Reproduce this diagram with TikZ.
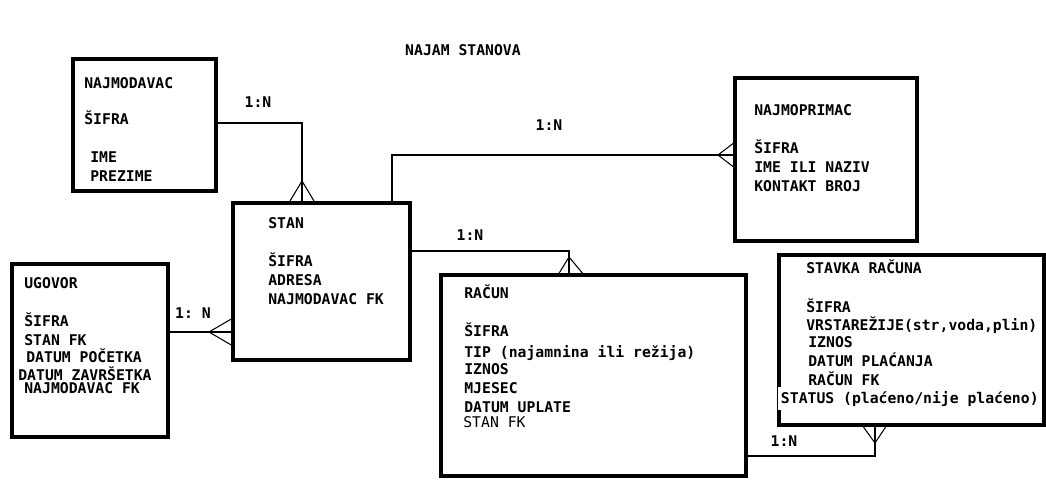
\documentclass[tikz,border=0pt]{standalone}
\usepackage{fontspec}
\setmonofont{DejaVu Sans Mono}
\usetikzlibrary{calc}

\begin{document}
\begin{tikzpicture}[x=0.02cm, y=-0.02cm,
  entity/.style={draw, line width=2.4pt, rectangle, outer sep=0pt, inner sep=0pt},
  attr/.style={anchor=base west, inner sep=0pt, font=\ttfamily\bfseries\fontsize{8.4}{10}\selectfont},
  card/.style={attr, anchor=center},
  rel/.style={line width=0.6pt}]
  \useasboundingbox (0,0) rectangle (1046,481);
  % naslov
  \node[card] (naslov) at (463,50) {NAJAM STANOVA};
  % entiteti
  \node[entity, minimum width=2.86cm, minimum height=2.64cm] (najmodavac) at (144.5,125) {};
  \node[entity, minimum width=3.54cm, minimum height=3.14cm] (stan) at (321.5,281.5) {};
  \node[entity, minimum width=3.12cm, minimum height=3.46cm] (ugovor) at (90,350.5) {};
  \node[entity, minimum width=3.64cm, minimum height=3.26cm] (najmoprimac) at (826,159.5) {};
  \node[entity, minimum width=6.10cm, minimum height=4.02cm] (racun) at (593.5,375.5) {};
  \node[entity, minimum width=5.30cm, minimum height=3.40cm] (stavka) at (911.5,340) {};
  % najmodavac
  \node[attr] (najmodavac-ime) at (84,88) {NAJMODAVAC};
  \node[attr] (najmodavac-a1) at (84,124) {ŠIFRA};
  \node[attr] (najmodavac-a2) at (90,162) {IME};
  \node[attr] (najmodavac-a3) at (90,181) {PREZIME};
  % stan
  \node[attr] (stan-ime) at (268,228) {STAN};
  \node[attr] (stan-a1) at (268,266) {ŠIFRA};
  \node[attr] (stan-a2) at (268,285) {ADRESA};
  \node[attr] (stan-a3) at (268,304) {NAJMODAVAC FK};
  % ugovor
  \node[attr] (ugovor-ime) at (24,288) {UGOVOR};
  \node[attr] (ugovor-a1) at (24,326) {ŠIFRA};
  \node[attr] (ugovor-a2) at (24,345) {STAN FK};
  \node[attr] (ugovor-a3) at (26,362) {DATUM POČETKA};
  \node[attr] (ugovor-a4) at (18,380) {DATUM ZAVRŠETKA};
  \node[attr] (ugovor-a5) at (24,393) {NAJMODAVAC FK};
  % najmoprimac
  \node[attr] (najmoprimac-ime) at (754,115) {NAJMOPRIMAC};
  \node[attr] (najmoprimac-a1) at (754,153) {ŠIFRA};
  \node[attr] (najmoprimac-a2) at (754,172) {IME ILI NAZIV};
  \node[attr] (najmoprimac-a3) at (754,191) {KONTAKT BROJ};
  % racun
  \node[attr] (racun-ime) at (464,298) {RAČUN};
  \node[attr] (racun-a1) at (464,336) {ŠIFRA};
  \node[attr] (racun-a2) at (464,357) {TIP (najamnina ili režija)};
  \node[attr] (racun-a3) at (464,374) {IZNOS};
  \node[attr] (racun-a4) at (464,393) {MJESEC};
  \node[attr] (racun-a5) at (464,412) {DATUM UPLATE};
  \node[attr, font=\ttfamily\fontsize{8.4}{10}\selectfont] (racun-a6) at (463,427) {STAN FK};
  % stavka racuna
  \node[attr] (stavka-ime) at (806,273) {STAVKA RAČUNA};
  \node[attr] (stavka-a1) at (806,312) {ŠIFRA};
  \node[attr] (stavka-a2) at (806,330) {VRSTAREŽIJE(str,voda,plin)};
  \node[attr] (stavka-a3) at (808,347) {IZNOS};
  \node[attr] (stavka-a4) at (808,366) {DATUM PLAĆANJA};
  \node[attr] (stavka-a5) at (808,385) {RAČUN FK};
  \node[attr, fill=white, inner xsep=1.5pt, inner ysep=2pt] (stavka-a6) at (778,403) {STATUS (plaćeno/nije plaćeno)\hspace{5pt}};
  % veze
  \draw[rel] ($(najmodavac.east)+(0,-2)$) -| ($(stan.north)+(-19.5,0)$);
  \draw[rel] (290,201) -- (302,181) -- (314,201);
  \node[card] (v1) at (258,102) {1:N};
  \draw[rel] ($(stan.north)+(70.5,0)$) |- ($(najmoprimac.west)+(0,-4.5)$);
  \draw[rel] (735,142) -- (718,155) -- (735,168);
  \node[card] (v2) at (549,125) {1:N};
  \draw[rel] ($(stan.east)+(0,-30.5)$) -| ($(racun.north)+(-24.5,0)$);
  \draw[rel] (558,275) -- (569,257) -- (584,275);
  \node[card] (v3) at (470,235) {1:N};
  \draw[rel] ($(ugovor.east)+(0,-18.5)$) coordinate (u1) -- (u1 -| stan.west);
  \draw[rel] (233,318) -- (209,332) -- (233,346);
  \node[card] (v4) at (193,313) {1: N};
  \draw[rel] ($(racun.east)+(0,80.5)$) -| ($(stavka.south)+(-36.5,0)$);
  \draw[rel] (862,425) -- (875,443) -- (887,425);
  \node[card] (v5) at (784,441) {1:N};
\end{tikzpicture}
\end{document}
